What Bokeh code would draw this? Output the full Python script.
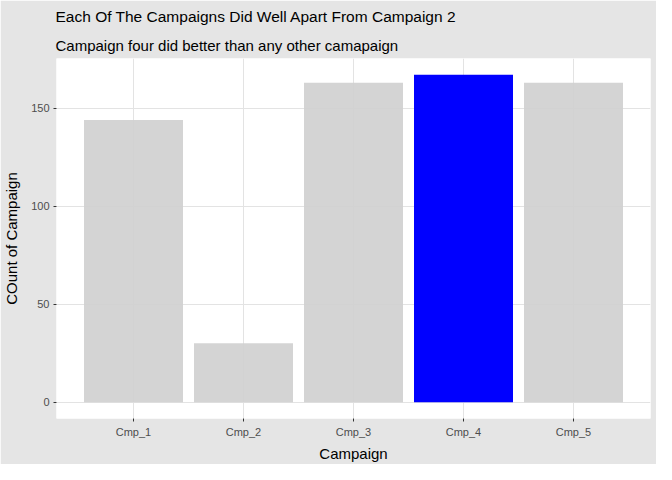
from bokeh.plotting import figure
from bokeh.models import ColumnDataSource, FactorRange, Range1d, Title, FixedTicker
from bokeh.embed import file_html
from bokeh.resources import INLINE

# data
campaigns = ["Cmp_1", "Cmp_2", "Cmp_3", "Cmp_4", "Cmp_5"]
counts = [144, 30, 163, 167, 163]
highlight = "Cmp_4"
y_ticks = [0, 50, 100, 150]

colors = ["#0000FF" if c == highlight else "#D0D0D0" for c in campaigns]
alphas = [1.0 if c == highlight else 0.92 for c in campaigns]

source = ColumnDataSource(dict(x=campaigns, top=counts, color=colors, alpha=alphas))

FONT = "Liberation Sans"
BG = "#E5E5E5"

top = max(counts)
p = figure(
    x_range=FactorRange(*campaigns, range_padding=0.2, range_padding_units="absolute"),
    y_range=Range1d(-0.05 * top, 1.05 * top),
    width=656, height=464,
    output_backend="svg",
    toolbar_location=None,
    min_border_left=50, min_border_right=6,
    min_border_top=50, min_border_bottom=46,
)

p.vbar(x="x", top="top", width=0.9, source=source,
       fill_color="color", fill_alpha="alpha", line_color=None)

# titles (subtitle first so it sits nearer the panel)
p.add_layout(Title(text="Campaign  four did better than any other camapaign",
                   text_font=FONT, text_font_size="15px", text_font_style="normal",
                   text_color="#000000", align="left", offset=-1), "above")
p.add_layout(Title(text="Each Of The Campaigns Did Well Apart From Campaign 2",
                   text_font=FONT, text_font_size="15.5px", text_font_style="normal",
                   text_color="#000000", align="left", offset=-1), "above")

p.background_fill_color = "white"
p.border_fill_color = BG
p.outline_line_color = None

p.xgrid.grid_line_color = "#E3E3E3"
p.ygrid.grid_line_color = "#E3E3E3"
p.ygrid.minor_grid_line_color = None
p.yaxis.ticker = FixedTicker(ticks=y_ticks)

p.xaxis.axis_label = "Campaign"
p.yaxis.axis_label = "COunt of Campaign"
for ax in (p.xaxis, p.yaxis):
    ax.axis_line_color = None
    ax.major_tick_line_color = "#333333"
    ax.major_tick_out = 3
    ax.major_tick_in = 0
    ax.minor_tick_line_color = None
    ax.major_label_text_font = FONT
    ax.major_label_text_font_size = "11px"
    ax.major_label_text_color = "#4D4D4D"
    ax.axis_label_text_font = FONT
    ax.axis_label_text_font_size = "15px"
    ax.axis_label_text_font_style = "normal"
    ax.axis_label_text_color = "#000000"
p.xaxis.major_label_standoff = 4
p.xaxis.axis_label_standoff = 4
p.yaxis.major_label_standoff = 4
p.yaxis.axis_label_standoff = 8

open("out.html", "w").write(file_html(p, INLINE))
